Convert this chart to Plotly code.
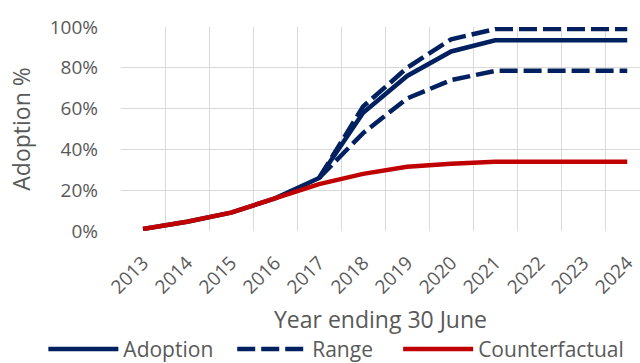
import plotly.graph_objects as go

years = [2013, 2014, 2015, 2016, 2017, 2018, 2019, 2020, 2021, 2022, 2023, 2024]
adoption = [1.0, 4.5, 9.0, 16.0, 26.0, 58.0, 76.0, 88.0, 93.5, 93.5, 93.5, 93.5]
range_upper = [None, None, None, None, 26.0, 61.0, 80.0, 94.0, 99.0, 99.0, 99.0, 99.0]
range_lower = [None, None, None, None, 26.0, 48.0, 65.0, 74.0, 78.5, 78.5, 78.5, 78.5]
counterfactual = [1.0, 4.5, 9.0, 16.0, 23.0, 28.0, 31.5, 33.0, 34.0, 34.0, 34.0, 34.0]
y_ticks = [0, 20, 40, 60, 80, 100]

NAVY = "#002060"
RED = "#C00000"
GRID = "#D9D9D9"
TXT = "#595959"
FONT = "Open Sans"

fig = go.Figure()
fig.add_trace(go.Scatter(x=years, y=[v / 100 for v in adoption], name="Adoption",
                         mode="lines", line=dict(color=NAVY, width=4.5), legend="legend"))
fig.add_trace(go.Scatter(x=years, y=[None if v is None else v / 100 for v in range_upper],
                         name="Range", legendgroup="range", mode="lines", legend="legend2",
                         line=dict(color=NAVY, width=4.5, dash="18px,6px")))
fig.add_trace(go.Scatter(x=years, y=[None if v is None else v / 100 for v in range_lower],
                         name="Range", legendgroup="range", showlegend=False, mode="lines",
                         legend="legend2",
                         line=dict(color=NAVY, width=4.5, dash="18px,6px")))
fig.add_trace(go.Scatter(x=years, y=[v / 100 for v in counterfactual], name="Counterfactual",
                         mode="lines", line=dict(color=RED, width=4.5), legend="legend3"))

legend_common = dict(orientation="h", xanchor="left", y=-0.48, yanchor="top",
                     font=dict(size=21, color=TXT), itemwidth=70,
                     bgcolor="rgba(0,0,0,0)")

fig.update_layout(
    width=640, height=363,
    margin=dict(l=121, r=0, t=27, b=132, autoexpand=False),
    paper_bgcolor="white", plot_bgcolor="white",
    font=dict(family=FONT, color=TXT),
    showlegend=True,
    legend=dict(x=-0.1496, **legend_common),
    legend2=dict(x=0.2143, **legend_common),
    legend3=dict(x=0.5340, **legend_common),
)
fig.update_xaxes(
    range=[2012.5, 2024.29], tickmode="array", tickvals=years,
    ticktext=[str(y) for y in years], tickangle=-45, showgrid=False,
    tickfont=dict(size=19, color=TXT), ticks="", ticklabelstandoff=16,
    minor=dict(tickmode="array", tickvals=[y - 0.5 for y in years], showgrid=True,
               gridcolor=GRID, gridwidth=1.3, ticks=""),
    showline=False, zeroline=False,
    title=dict(text="Year ending 30 June", font=dict(size=23, color=TXT), standoff=13),
)
fig.update_yaxes(
    range=[0, 1], tickvals=[v / 100 for v in y_ticks],
    ticktext=[f"{v}%" for v in y_ticks],
    showgrid=True, gridcolor=GRID, gridwidth=1.3, zeroline=False, showline=False,
    tickfont=dict(size=19, color=TXT), ticks="", ticklabelstandoff=22,
    title=dict(text="Adoption %", font=dict(size=23, color=TXT), standoff=12),
)

fig.write_html("out.html")
